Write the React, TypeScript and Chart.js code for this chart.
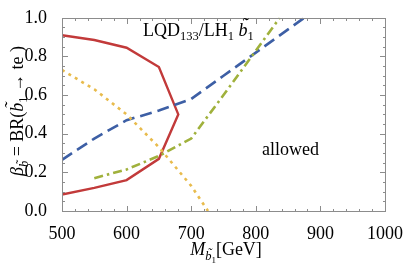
import React, { useEffect, useRef } from 'react';
import { Chart, registerables } from 'chart.js';
Chart.register(...registerables);

// ---- data ----
const xTickValues = [500, 600, 700, 800, 900, 1000];
const yTickValues = [0, 0.2, 0.4, 0.6, 0.8, 1.0];

const redMass = [500, 550, 600, 650, 680, 650, 600, 550, 500];
const redBeta = [0.91, 0.885, 0.845, 0.745, 0.5, 0.27, 0.16, 0.12, 0.085];

const blueMass = [500, 550, 600, 650, 700, 750, 800, 850, 875];
const blueBeta = [0.265, 0.375, 0.47, 0.52, 0.58, 0.70, 0.82, 0.94, 1.0];

const greenMass = [550, 600, 650, 700, 750, 800, 837];
const greenBeta = [0.17, 0.215, 0.285, 0.375, 0.6, 0.83, 1.0];

const yellowMass = [500, 550, 600, 650, 700, 726];
const yellowBeta = [0.73, 0.63, 0.5, 0.33, 0.13, 0.0];

const FAMILY = '"Liberation Serif", "Times New Roman", serif';

type Run = { t: string; size: number; italic?: boolean; dy?: number; tilde?: boolean };

function fontOf(r: Run) {
  return `${r.italic ? 'italic ' : ''}${r.size}px ${FAMILY}`;
}
function runsWidth(ctx: CanvasRenderingContext2D, runs: Run[]) {
  let w = 0;
  for (const r of runs) {
    ctx.font = fontOf(r);
    w += ctx.measureText(r.t).width;
  }
  return w;
}
function drawRuns(ctx: CanvasRenderingContext2D, runs: Run[], x: number, y: number) {
  let cx = x;
  ctx.textBaseline = 'alphabetic';
  ctx.textAlign = 'left';
  for (const r of runs) {
    ctx.font = fontOf(r);
    const w = ctx.measureText(r.t).width;
    const by = y + (r.dy || 0);
    ctx.fillText(r.t, cx, by);
    if (r.tilde) {
      const tw = ctx.measureText('\u02DC').width;
      ctx.fillText('\u02DC', cx + w / 2 - tw / 2 + (r.italic ? r.size * 0.1 : 0), by - r.size * 0.26);
    }
    cx += w;
  }
}

function pts(xs: number[], ys: number[]) {
  return xs.map((m, i) => ({ x: m, y: ys[i] }));
}

function drawFrame(chart: any) {
  const ctx: CanvasRenderingContext2D = chart.ctx;
  const xs = chart.scales.x;
  const ys = chart.scales.y;
  const l = Math.round(xs.getPixelForValue(500));
  const r = Math.round(xs.getPixelForValue(1000));
  const t = Math.round(ys.getPixelForValue(1));
  const b = Math.round(ys.getPixelForValue(0));
  ctx.save();
  ctx.fillStyle = '#8c8c8c';
  ctx.fillRect(l, t, r - l + 1, 1);
  ctx.fillRect(l, b, r - l + 1, 1);
  ctx.fillRect(l, t, 1, b - t + 1);
  ctx.fillRect(r, t, 1, b - t + 1);
  for (let v = 500; v <= 1000; v += 20) {
    const px = Math.round(xs.getPixelForValue(v));
    const L = v % 100 === 0 ? 6 : 3;
    ctx.fillRect(px, b - L + 1, 1, L);
    ctx.fillRect(px, t, 1, L);
  }
  for (let i = 0; i <= 20; i++) {
    const py = Math.round(ys.getPixelForValue(i * 0.05));
    const L = i % 4 === 0 ? 6 : 3;
    ctx.fillRect(l, py, L, 1);
    ctx.fillRect(r - L + 1, py, L, 1);
  }
  ctx.restore();
}

const decor = {
  id: 'decor',
  afterDraw(chart: any) {
    drawFrame(chart);
    const ctx: CanvasRenderingContext2D = chart.ctx;
    ctx.save();
    ctx.fillStyle = '#000';
    const ann: Run[] = [
      { t: 'LQD', size: 18 },
      { t: '133', size: 12.5, dy: 4 },
      { t: '/LH', size: 18 },
      { t: '1', size: 12.5, dy: 4 },
      { t: ' ', size: 18 },
      { t: 'b', size: 18, italic: true, tilde: true },
      { t: '1', size: 12.5, dy: 4 },
    ];
    drawRuns(ctx, ann, 143, 36);
    drawRuns(ctx, [{ t: 'allowed', size: 18 }], 262, 155);
    const xl: Run[] = [
      { t: 'M', size: 18, italic: true },
      { t: 'b', size: 12.5, italic: true, dy: 5, tilde: true },
      { t: '1', size: 9, dy: 8 },
      { t: '[GeV]', size: 18 },
    ];
    const xw = runsWidth(ctx, xl);
    drawRuns(ctx, xl, 226 - xw / 2, 255);
    const yl: Run[] = [
      { t: '\u03B2', size: 18, italic: true },
      { t: 'b', size: 12.5, italic: true, dy: 5, tilde: true },
      { t: ' = BR(', size: 18 },
      { t: 'b', size: 18, italic: true, tilde: true },
      { t: '1', size: 12.5, dy: 4 },
      { t: ' \u2192 te )', size: 18 },
    ];
    const yw = runsWidth(ctx, yl);
    ctx.translate(23, 111);
    ctx.rotate(-Math.PI / 2);
    drawRuns(ctx, yl, -yw / 2, 0);
    ctx.restore();
  },
};

export default function App() {
  const ref = useRef<HTMLCanvasElement | null>(null);
  useEffect(() => {
    if (!ref.current) return;
    const tickFont = { family: FAMILY, size: 18 };
    const chart = new Chart(ref.current, {
      type: 'line',
      data: {
        datasets: [
          { data: pts(yellowMass, yellowBeta), borderColor: '#e8bb4c', borderWidth: 2.6, borderDash: [3, 4.5], fill: false, pointRadius: 0 },
          { data: pts(greenMass, greenBeta), borderColor: '#a0b13c', borderWidth: 2.6, borderDash: [9, 4, 2.5, 4], fill: false, pointRadius: 0 },
          { data: pts(blueMass, blueBeta), borderColor: '#3d5fa5', borderWidth: 2.6, borderDash: [12, 6], fill: false, pointRadius: 0 },
          { data: pts(redMass, redBeta), borderColor: '#c23a3a', borderWidth: 2.4, fill: false, pointRadius: 0 },
        ] as any,
      },
      options: {
        animation: false,
        responsive: false,
        layout: { padding: { top: 10, right: 18, left: 0, bottom: 0 } },
        plugins: { legend: { display: false }, tooltip: { enabled: false } },
        elements: { line: { tension: 0 } },
        scales: {
          x: {
            type: 'linear',
            min: 500,
            max: 1000,
            grid: { display: false },
            border: { display: false },
            ticks: { font: tickFont, color: '#000', padding: 4, maxRotation: 0, callback: (v: any) => String(v) },
            afterBuildTicks: (s: any) => { s.ticks = xTickValues.map((v) => ({ value: v })); },
            afterFit: (s: any) => { s.height = 60; },
          },
          y: {
            type: 'linear',
            min: 0,
            max: 1,
            grid: { display: false },
            border: { display: false },
            ticks: { font: tickFont, color: '#000', padding: 7, callback: (v: any) => Number(v).toFixed(1) },
            afterBuildTicks: (s: any) => { s.ticks = yTickValues.map((v) => ({ value: v })); },
            afterFit: (s: any) => { s.width = 62; },
          },
        },
      } as any,
      plugins: [decor],
    });
    return () => chart.destroy();
  }, []);
  return (
    <div style={{ position: 'absolute', left: 0, top: 0, width: 407, height: 271, background: '#fff' }}>
      <canvas ref={ref} width={407} height={271} style={{ display: 'block' }} />
    </div>
  );
}
